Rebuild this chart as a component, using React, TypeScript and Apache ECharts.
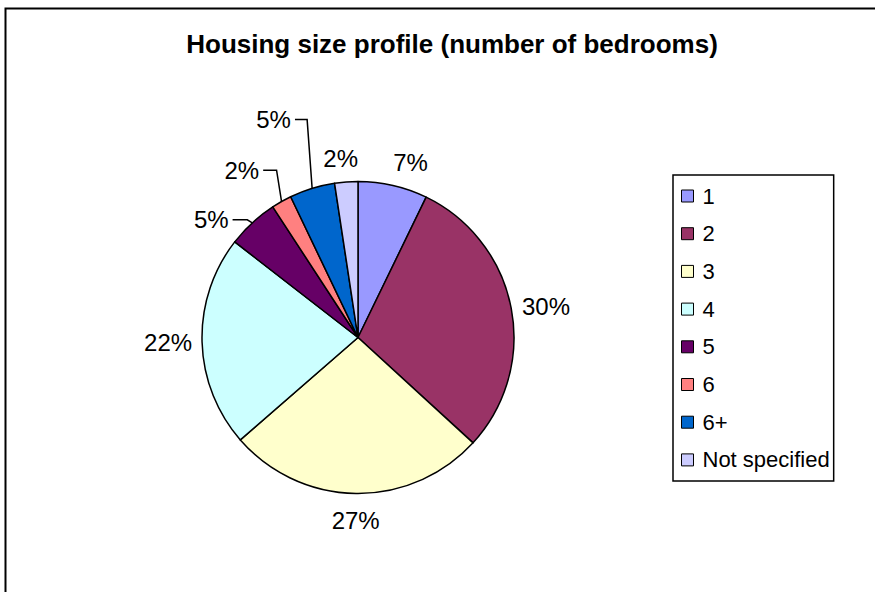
import React, { useEffect, useRef } from 'react';
import * as echarts from 'echarts';

// ---- data ----
const categories = ['1', '2', '3', '4', '5', '6', '6+', 'Not specified'];
const shares = [7.2, 29.6, 26.8, 21.9, 5.3, 2.1, 4.7, 2.4];
const chartTitle = 'Housing size profile (number of bedrooms)';

// ---- styles ----
const sliceColors = ['#9999FF', '#993366', '#FFFFCC', '#CCFFFF', '#660066', '#FF8080', '#0066CC', '#CCCCFF'];
// label guide tuning (Excel-like placement)
const leaderShown = [false, false, false, false, true, true, true, false];
const guideLen = [23.6, 12, 27.5, 10, 4, 35.9, 72, 23.1];
const guideLen2 = [12.2, 23, 0, 24, 21, 4.8, 0, 3.8];

const FONT = '"Liberation Sans", Arial, Helvetica, sans-serif';
const CX = 358;
const CY = 337.5;
const R = 156;

export default function App() {
  const ref = useRef<HTMLDivElement>(null);

  useEffect(() => {
    document.body.style.margin = '0';
    const chart = echarts.init(ref.current as HTMLDivElement, null, { renderer: 'svg' });
    const data = categories.map((name, i) => ({
      name,
      value: shares[i],
      itemStyle: { color: sliceColors[i] },
      labelLine: { show: leaderShown[i], length: guideLen[i], length2: guideLen2[i] },
    }));

    chart.setOption({
      animation: false,
      backgroundColor: '#ffffff',
      title: {
        text: chartTitle,
        left: 447,
        top: 26,
        textAlign: 'center',
        textStyle: { fontSize: 26, fontWeight: 'bold', fontFamily: FONT, color: '#000' },
      },
      graphic: [
        {
          type: 'rect',
          shape: { x: 5.5, y: 8.5, width: 2000, height: 2000 },
          style: { fill: 'none', stroke: '#000', lineWidth: 2 },
          silent: true,
          z: 100,
        },
      ],
      legend: {
        orient: 'vertical',
        left: 673,
        top: 175,
        data: categories,
        icon: 'rect',
        itemWidth: 12,
        itemHeight: 12,
        itemGap: 15.7,
        padding: [10, 4, 10, 8],
        borderColor: '#000',
        borderWidth: 1.5,
        backgroundColor: '#fff',
        selectedMode: false,
        itemStyle: { borderColor: '#000', borderWidth: 1 },
        textStyle: { fontSize: 22, fontFamily: FONT, color: '#000', lineHeight: 22, padding: [0, 0, 0, 4] },
      },
      series: [
        {
          type: 'pie',
          center: [CX, CY],
          radius: R,
          startAngle: 90,
          clockwise: true,
          avoidLabelOverlap: false,
          emphasis: { disabled: true },
          itemStyle: { borderColor: '#000', borderWidth: 1.5 },
          label: {
            show: true,
            position: 'outside',
            formatter: (p: any) => Math.round(p.value) + '%',
            fontSize: 24,
            fontFamily: FONT,
            color: '#000',
            distanceToLabelLine: 0,
          },
          labelLine: { smooth: false, lineStyle: { color: '#000', width: 1.5 } },
          labelLayout: (p: any) => {
            const i = p.dataIndex;
            const rect = p.labelRect;
            const midY = rect.y + rect.height / 2;
            if (leaderShown[i]) {
              const pts = p.labelLinePoints;
              if (!pts) return {};
              const s = pts[0];
              return {
                labelLinePoints: [
                  [s[0], s[1]],
                  [s[0] - 5, midY],
                  [rect.x + rect.width + 4, midY],
                ],
              };
            }
            if (p.align === 'left') return { x: rect.x - rect.width / 2 };
            return { x: rect.x + rect.width * 1.5 };
          },
          data,
        },
      ],
    });

    return () => chart.dispose();
  }, []);

  return (
    <div
      ref={ref}
      style={{ position: 'absolute', left: 0, top: 0, width: 875, height: 592, background: '#fff' }}
    />
  );
}
